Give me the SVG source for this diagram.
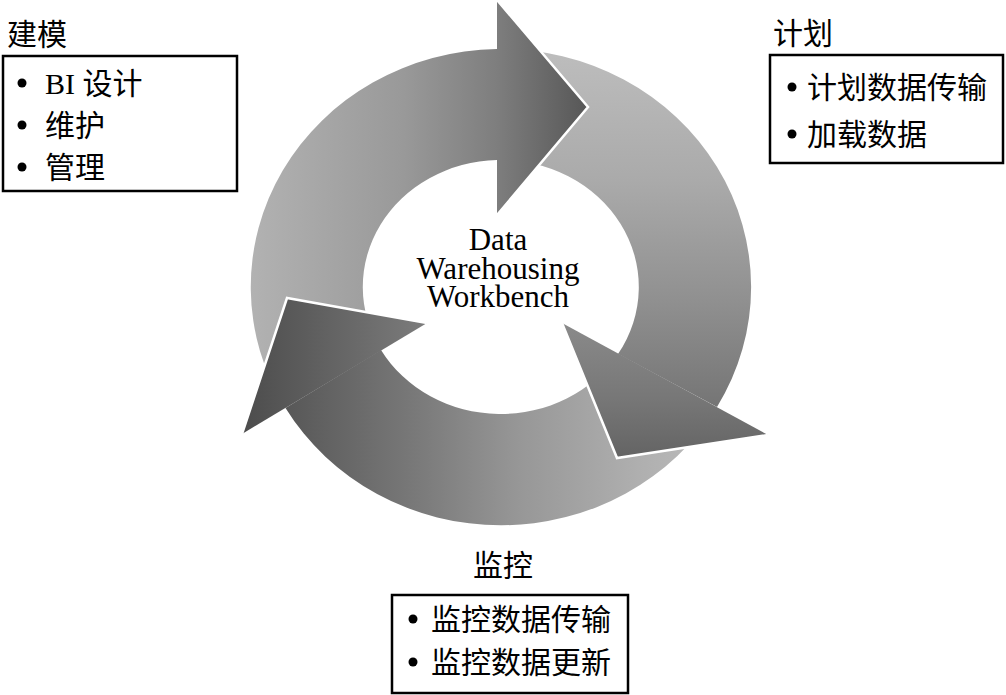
<svg xmlns="http://www.w3.org/2000/svg" width="1006" height="695" viewBox="0 0 1006 695">
  <style>
    .box { fill: #ffffff; stroke: #000000; stroke-width: 2.5; }
    .lbl { font-family: "Liberation Serif", "Noto Sans CJK SC", serif; font-size: 30px; fill: #000000; }
    .ctr { font-family: "Liberation Serif", serif; font-size: 31px; fill: #000000; text-anchor: middle; }
    .bul { fill: #000000; }
    .edge { fill: none; stroke: #ffffff; stroke-width: 2.5; stroke-linejoin: miter; }
  </style>
  <defs>
    <linearGradient id="g1" gradientUnits="userSpaceOnUse" x1="250" y1="0" x2="592" y2="0">
      <stop offset="0" stop-color="#b2b2b2"/>
      <stop offset="0.45" stop-color="#999999"/>
      <stop offset="0.72" stop-color="#7e7e7e"/>
      <stop offset="1" stop-color="#555555"/>
    </linearGradient>
    <linearGradient id="g2" gradientUnits="userSpaceOnUse" x1="0" y1="50" x2="0" y2="460">
      <stop offset="0" stop-color="#bdbdbd"/>
      <stop offset="0.32" stop-color="#aaaaaa"/>
      <stop offset="0.61" stop-color="#909090"/>
      <stop offset="0.85" stop-color="#777777"/>
      <stop offset="1" stop-color="#636363"/>
    </linearGradient>
    <linearGradient id="g3" gradientUnits="userSpaceOnUse" x1="242" y1="0" x2="720" y2="0">
      <stop offset="0" stop-color="#4c4c4c"/>
      <stop offset="0.37" stop-color="#7a7a7a"/>
      <stop offset="0.58" stop-color="#979797"/>
      <stop offset="0.83" stop-color="#afafaf"/>
      <stop offset="1" stop-color="#bcbcbc"/>
    </linearGradient>
  </defs>
  <rect width="1006" height="695" fill="#ffffff"/>

  <g id="connectors">
    <!-- arrow bodies -->
    <path id="arrow-plan" d="M 285.5,408 A 250 238 0 0 1 497,49 L 497,160 A 138 127 0 0 0 381,350 Z" fill="url(#g1)"/>
    <path id="arrow-load" d="M 497,49 A 250 238 0 0 1 717,407 L 618,354 A 138 127 0 0 0 497,160 Z" fill="url(#g2)"/>
    <path id="arrow-monitor" d="M 717,407 A 250 238 0 0 1 285.5,408 L 381,350 A 138 127 0 0 0 618,354 Z" fill="url(#g3)"/>
    <!-- arrow heads -->
    <polygon points="497,0 588,107 497,215" fill="url(#g1)"/>
    <polygon points="562,323 617,458 768,435" fill="url(#g2)"/>
    <polygon points="242,434 287,298 427,323" fill="url(#g3)"/>
    <!-- white leading edges -->
    <polyline class="edge" points="497,0 588,107 497,215"/>
    <polyline class="edge" points="562,323 617,458 768,435"/>
    <polyline class="edge" points="242,434 287,298 427,323"/>
  </g>

  <g id="node-center">
    <text class="ctr" x="498" y="250">Data<tspan x="498" dy="28.5">Warehousing</tspan><tspan x="498" dy="28.5">Workbench</tspan></text>
  </g>

  <g id="node-modeling">
    <text class="lbl" x="7" y="45">建模</text>
    <rect class="box" x="3" y="56" width="234" height="135"/>
    <circle class="bul" cx="22" cy="83" r="4.5"/>
    <text class="lbl" x="45" y="94">BI 设计</text>
    <circle class="bul" cx="22" cy="125" r="4.5"/>
    <text class="lbl" x="45" y="136">维护</text>
    <circle class="bul" cx="22" cy="167" r="4.5"/>
    <text class="lbl" x="45" y="178">管理</text>
  </g>

  <g id="node-planning">
    <text class="lbl" x="773" y="44">计划</text>
    <rect class="box" x="770" y="55" width="233" height="108"/>
    <circle class="bul" cx="792" cy="87" r="4.5"/>
    <text class="lbl" x="807" y="98">计划数据传输</text>
    <circle class="bul" cx="792" cy="134" r="4.5"/>
    <text class="lbl" x="807" y="145">加载数据</text>
  </g>

  <g id="node-monitoring">
    <text class="lbl" x="473" y="576">监控</text>
    <rect class="box" x="392" y="595" width="236" height="98"/>
    <circle class="bul" cx="413" cy="619" r="4.5"/>
    <text class="lbl" x="431" y="630">监控数据传输</text>
    <circle class="bul" cx="413" cy="662" r="4.5"/>
    <text class="lbl" x="431" y="673">监控数据更新</text>
  </g>
</svg>
